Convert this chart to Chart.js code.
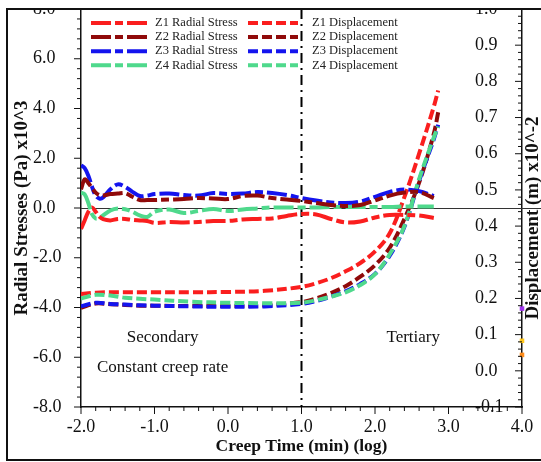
<!DOCTYPE html>
<html>
<head>
<meta charset="utf-8">
<script src="https://cdn.jsdelivr.net/npm/chart.js@4/dist/chart.umd.min.js"></script>
<style>
  html, body { margin: 0; padding: 0; background: #fff; }
  canvas { display: block; }
</style>
</head>
<body>
<canvas id="creepChart" width="541" height="462"></canvas>
<script>
const SERIF = "'Liberation Serif', 'Times New Roman', serif";

// log10 creep time (min) for the stress curves
const stressTime = [-2.0, -1.95, -1.9, -1.85, -1.8, -1.75, -1.7, -1.6, -1.5, -1.4, -1.3, -1.2, -1.1, -1.0,
  -0.8, -0.6, -0.4, -0.2, 0.0, 0.2, 0.4, 0.6, 0.8, 1.0, 1.2, 1.4, 1.6, 1.8, 2.0, 2.2, 2.4, 2.6, 2.8];
// radial stress, Pa x10^3
const z1Stress = [-0.84, -0.5, -0.15, 0.02, -0.15, -0.35, -0.45, -0.5, -0.44, -0.44, -0.48, -0.5, -0.52, -0.6,
  -0.56, -0.58, -0.56, -0.52, -0.52, -0.46, -0.44, -0.42, -0.32, -0.24, -0.26, -0.44, -0.58, -0.54, -0.38, -0.28, -0.28, -0.3, -0.4];
const z2Stress = [0.75, 1.15, 1.0, 0.8, 0.62, 0.52, 0.5, 0.56, 0.58, 0.6, 0.45, 0.32, 0.32, 0.32,
  0.34, 0.36, 0.4, 0.38, 0.36, 0.48, 0.5, 0.4, 0.34, 0.28, 0.2, 0.12, 0.08, 0.12, 0.3, 0.5, 0.62, 0.64, 0.4];
const z3Stress = [1.72, 1.6, 1.3, 0.85, 0.5, 0.38, 0.42, 0.75, 0.95, 0.85, 0.65, 0.48, 0.5, 0.56,
  0.58, 0.52, 0.5, 0.6, 0.56, 0.58, 0.64, 0.6, 0.52, 0.4, 0.3, 0.22, 0.2, 0.26, 0.45, 0.65, 0.74, 0.68, 0.48];
const z4Stress = [0.62, 0.55, 0.2, -0.25, -0.42, -0.4, -0.3, -0.1, -0.02, -0.05, -0.15, -0.3, -0.36, -0.15,
  -0.06, -0.2, -0.12, -0.04, -0.12, -0.06, -0.02, 0.02, 0.02, 0.02, 0.02, 0.04, 0.04, 0.04, 0.04, 0.04, 0.06, 0.06, 0.06];

// log10 creep time (min) for the displacement curves
const dispTime = [-2.0, -1.8, -1.6, -1.4, -1.2, -1.0, -0.5, 0.0, 0.5, 1.0, 1.2, 1.4, 1.6, 1.8, 2.0, 2.2, 2.4, 2.6, 2.8, 2.86];
// displacement, m x10^-2
const z1Disp = [0.212, 0.216, 0.217, 0.217, 0.217, 0.217, 0.217, 0.218, 0.221, 0.232, 0.242, 0.256, 0.275, 0.298, 0.33, 0.38, 0.48, 0.6, 0.73, 0.775];
const z2Disp = [0.174, 0.186, 0.184, 0.182, 0.18, 0.18, 0.179, 0.179, 0.181, 0.19, 0.2, 0.215, 0.234, 0.26, 0.292, 0.34, 0.42, 0.52, 0.655, 0.715];
const z3Disp = [0.178, 0.188, 0.185, 0.183, 0.181, 0.18, 0.178, 0.177, 0.178, 0.185, 0.193, 0.205, 0.22, 0.24, 0.268, 0.318, 0.398, 0.525, 0.64, 0.68];
const z4Disp = [0.2, 0.21, 0.208, 0.202, 0.199, 0.197, 0.191, 0.188, 0.187, 0.188, 0.195, 0.205, 0.217, 0.237, 0.267, 0.322, 0.4, 0.53, 0.645, 0.675];

// stray markers sitting on the displacement axis at t = 4.0
const edgeMarkTime = 4.0;
const edgeMarkDisp = [0.172, 0.083, 0.044];

const zones = ['Z1', 'Z2', 'Z3', 'Z4'];
const zoneColors = ['#fa1e1e', '#900a0a', '#1414ee', '#4fd98c'];
const edgeMarkColors = ['#a033f0', '#ffc61a', '#ff8c1a'];

const phaseBoundary = 1.0;
const phaseNotes = [
  { text: 'Secondary', x: -0.89, y: -5.2 },
  { text: 'Constant creep rate', x: -0.89, y: -6.42 },
  { text: 'Tertiary', x: 2.52, y: -5.2 },
];

const stressAxis = { min: -8, max: 8, step: 2, minor: 0.4 };
const dispAxis = { min: -0.1, max: 1.0, step: 0.1, minor: 0.02 };
const timeAxis = { min: -2, max: 4, step: 1, minor: 0.2 };

const pts = (xs, ys) => xs.map((x, i) => ({ x, y: ys[i] }));

const stressSets = [z1Stress, z2Stress, z3Stress, z4Stress].map((vals, i) => ({
  label: zones[i] + ' Radial Stress',
  data: pts(stressTime, vals),
  yAxisID: 'y',
  borderColor: zoneColors[i],
  borderWidth: 4,
  borderDash: [20, 4, 8, 4],
  tension: 0.35,
  pointRadius: 0,
}));

const dispSets = [z4Disp, z3Disp, z2Disp, z1Disp].map((vals, j) => {
  const i = 3 - j;
  return {
    label: zones[i] + ' Displacement',
    data: pts(dispTime, vals),
    yAxisID: 'y2',
    borderColor: zoneColors[i],
    borderWidth: 4,
    borderDash: [10, 4],
    tension: 0.35,
    pointRadius: 0,
    legendRow: i,
  };
});

const markSet = {
  label: '',
  data: edgeMarkDisp.map(v => ({ x: edgeMarkTime, y: v })),
  yAxisID: 'y2',
  showLine: false,
  pointStyle: 'rect',
  pointRadius: 3.2,
  pointBorderWidth: 0,
  pointBackgroundColor: edgeMarkColors,
  clip: false,
  noLegend: true,
};

function tickMarks(ctx, scale, cfg, drawAt) {
  const n = Math.round((cfg.max - cfg.min) / cfg.minor);
  for (let k = 0; k <= n; k++) {
    const v = cfg.min + k * cfg.minor;
    const r = v / cfg.step;
    const major = Math.abs(r - Math.round(r)) < 1e-6;
    drawAt(scale.getPixelForValue(v), major ? 7 : 4);
  }
}

const decor = {
  id: 'creepDecor',
  beforeDatasetsDraw(chart) {
    const { ctx, chartArea: a, scales: { x, y } } = chart;
    ctx.save();
    const y0 = Math.round(y.getPixelForValue(0)) + 0.5;
    ctx.strokeStyle = '#333';
    ctx.lineWidth = 1;
    ctx.beginPath();
    ctx.moveTo(a.left, y0);
    ctx.lineTo(chart.width, y0);
    ctx.stroke();

    const xb = x.getPixelForValue(phaseBoundary);
    ctx.strokeStyle = '#000';
    ctx.lineWidth = 2;
    ctx.setLineDash([10, 5, 2, 5]);
    ctx.beginPath();
    ctx.moveTo(xb, a.top);
    ctx.lineTo(xb, a.bottom);
    ctx.stroke();
    ctx.restore();
  },
  afterDatasetsDraw(chart) {
    const { ctx, chartArea: a, scales: { x, y, y2 } } = chart;
    ctx.save();

    // tick marks, major and minor
    ctx.strokeStyle = '#111';
    ctx.lineWidth = 1;
    tickMarks(ctx, y, stressAxis, (p, len) => {
      ctx.beginPath(); ctx.moveTo(a.left - len, p); ctx.lineTo(a.left, p); ctx.stroke();
    });
    tickMarks(ctx, y2, dispAxis, (p, len) => {
      ctx.beginPath(); ctx.moveTo(a.right - len, p); ctx.lineTo(a.right, p); ctx.stroke();
    });
    tickMarks(ctx, x, timeAxis, (p, len) => {
      ctx.beginPath(); ctx.moveTo(p, a.bottom); ctx.lineTo(p, a.bottom + len); ctx.stroke();
    });

    // legend in two columns: stress on the left, displacement on the right
    ctx.font = '12.5px ' + SERIF;
    ctx.textBaseline = 'middle';
    ctx.textAlign = 'left';
    chart.data.datasets.forEach(ds => {
      if (ds.noLegend) return;
      const isDisp = ds.yAxisID === 'y2';
      const row = isDisp ? ds.legendRow : zones.indexOf(ds.label.slice(0, 2));
      const ly = a.top + 14 + row * 14.1;
      const x0 = a.left + (isDisp ? 167 : 10);
      const len = isDisp ? 50 : 57;
      ctx.strokeStyle = ds.borderColor;
      ctx.lineWidth = ds.borderWidth;
      ctx.setLineDash(ds.borderDash);
      ctx.beginPath();
      ctx.moveTo(x0, ly);
      ctx.lineTo(x0 + len, ly);
      ctx.stroke();
      ctx.setLineDash([]);
      ctx.fillStyle = '#222';
      ctx.fillText(ds.label, x0 + len + (isDisp ? 14 : 7), ly);
    });

    // creep phase notes
    ctx.font = '17px ' + SERIF;
    ctx.textAlign = 'center';
    ctx.fillStyle = '#111';
    phaseNotes.forEach(n => {
      ctx.fillText(n.text, x.getPixelForValue(n.x), y.getPixelForValue(n.y));
    });

    // displacement axis title, reading bottom to top
    ctx.save();
    ctx.translate(chart.width - 8, 218);
    ctx.rotate(-Math.PI / 2);
    ctx.font = 'bold 19px ' + SERIF;
    ctx.fillText('Displacement (m) x10^-2', 0, 0);
    ctx.restore();
    ctx.restore();
  },
  afterDraw(chart) {
    const { ctx, chartArea: a } = chart;
    ctx.save();
    // trimmed top edge and outer frame
    ctx.fillStyle = '#fff';
    ctx.fillRect(0, 0, chart.width, a.top);
    ctx.strokeStyle = '#111';
    ctx.lineWidth = 2;
    ctx.beginPath();
    ctx.moveTo(chart.width, a.top);
    ctx.lineTo(7, a.top);
    ctx.lineTo(7, 460);
    ctx.lineTo(chart.width, 460);
    ctx.stroke();
    ctx.restore();
  },
};

const noPad = s => { s.paddingTop = 0; s.paddingBottom = 0; s.paddingLeft = 0; s.paddingRight = 0; };
const tickFont = { family: SERIF, size: 18 };

new Chart(document.getElementById('creepChart'), {
  type: 'line',
  data: { datasets: [markSet, ...stressSets, ...dispSets] },
  options: {
    responsive: false,
    animation: false,
    layout: { padding: { left: 33, top: 9, right: 0, bottom: 0 } },
    plugins: { legend: { display: false }, tooltip: { enabled: false } },
    scales: {
      x: {
        type: 'linear',
        min: timeAxis.min, max: timeAxis.max,
        grid: { display: false, drawTicks: false },
        border: { display: true, color: '#111', width: 1.5 },
        ticks: { stepSize: timeAxis.step, padding: 9, color: '#111', font: tickFont, callback: v => v.toFixed(1) },
        title: { display: true, text: 'Creep Time (min) (log)', color: '#111',
          font: { family: SERIF, size: 17.5, weight: 'bold' }, padding: { top: 0, bottom: 5 } },
        afterFit: s => { s.height = 55; noPad(s); },
      },
      y: {
        position: 'left',
        min: stressAxis.min, max: stressAxis.max,
        grid: { display: false, drawTicks: false },
        border: { display: true, color: '#111', width: 1.5 },
        ticks: { stepSize: stressAxis.step, crossAlign: 'far', color: '#111', font: tickFont, callback: v => v.toFixed(1) },
        title: { display: true, text: 'Radial Stresses (Pa) x10^3', color: '#111',
          font: { family: SERIF, size: 19, weight: 'bold' }, padding: { top: -22.4, bottom: 0 } },
        afterFit: s => { s.width = 48; noPad(s); },
      },
      y2: {
        position: 'right',
        min: dispAxis.min, max: dispAxis.max,
        grid: { display: false, drawTicks: false },
        border: { display: true, color: '#111', width: 1.5 },
        ticks: { stepSize: dispAxis.step, mirror: true, crossAlign: 'far', padding: -18.5, color: '#111', font: tickFont,
          callback: v => Number(v).toFixed(1) },
        afterFit: s => { s.width = 19; noPad(s); },
      },
    },
  },
  plugins: [decor],
});
</script>
</body>
</html>
